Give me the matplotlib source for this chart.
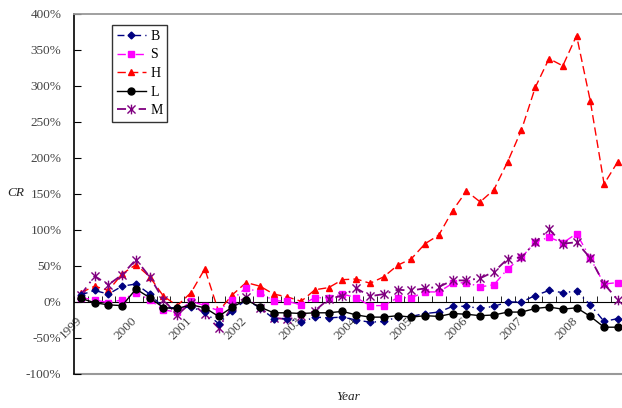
import numpy as np
import matplotlib
matplotlib.use('Agg')
import matplotlib.pyplot as plt
import matplotlib.transforms as mtransforms
from matplotlib.path import Path
from matplotlib.ticker import FixedLocator, FuncFormatter

years = ['1999', '2000', '2001', '2002', '2003', '2004', '2005', '2006', '2007', '2008']

# quarterly CR values (%), 1999Q1 .. 2008Q4
B = [10, 16, 11, 22, 25, 11, -8, -8, -7, -14, -30, -12, 3, -8, -23, -23, -28, -21, -22, -21,
     -25, -28, -27, -21, -20, -16, -14, -6, -6, -9, -6, 0, 0, 9, 16, 13, 15, -4, -27, -23]
S = [6, 3, -1, 3, 13, 3, -11, -14, 1, -5, -12, 3, 20, 13, 2, 1, -4, 6, 6, 11,
     6, -5, -5, 6, 6, 14, 14, 26, 27, 21, 24, 46, 62, 83, 90, 82, 95, 61, 25, 27]
H = [13, 22, 16, 39, 52, 35, 8, -5, 13, 46, -13, 10, 27, 22, 11, 7, 1, 17, 20, 31,
     32, 26, 35, 51, 60, 81, 93, 127, 154, 139, 156, 195, 239, 298, 338, 328, 370, 279, 164, 195]
L = [5, -1, -4, -5, 18, 6, -8, -9, -4, -8, -20, -7, 3, -7, -15, -15, -16, -15, -15, -13,
     -18, -21, -21, -19, -21, -19, -20, -16, -17, -19, -18, -14, -14, -9, -7, -10, -8, -20, -35, -35]
M = [10, 36, 24, 38, 59, 35, 3, -18, -1, -17, -36, -6, 7, -8, -22, -24, -20, -12, 4, 9,
     19, 8, 11, 17, 16, 19, 21, 30, 30, 33, 42, 60, 62, 83, 101, 81, 83, 61, 25, 3]

SERIF = ['Liberation Serif', 'DejaVu Serif']
GRAY = '#444444'

# Excel-style star: an X with a vertical stroke
STAR = Path([(-1, -1), (1, 1), (-1, 1), (1, -1), (0, -1.2), (0, 1.2)],
            [Path.MOVETO, Path.LINETO, Path.MOVETO, Path.LINETO, Path.MOVETO, Path.LINETO])

x = np.arange(len(B))

fig = plt.figure(figsize=(6.22, 4.08), dpi=100)
ax = fig.add_axes([74 / 622, 34 / 408, 548 / 622, 360 / 408])

ax.plot(x, H, color='red', ls=(0, (6, 3)), lw=1.0, marker='^', ms=5, label='H', zorder=3)
ax.plot(x, S, color='#ff00ff', ls=(0, (6, 3, 1, 3)), lw=1.0, marker='s', ms=5, label='S', zorder=3)
ax.plot(x, M, color='#800080', ls=(0, (5, 3, 1, 3)), lw=1.3, marker=STAR, ms=7,
        mew=1.0, label='M', zorder=3)
ax.plot(x, B, color='#000080', ls=(0, (5, 3, 1, 3)), lw=1.0, marker='D', ms=3.5, label='B', zorder=4)
ax.plot(x, L, color='black', ls='-', lw=1.0, marker='o', ms=5, label='L', zorder=5)

ax.set_xlim(-0.5, 39.3)
ax.set_ylim(-100, 400)

# category axis crosses at 0
ax.spines['right'].set_visible(False)
ax.spines['top'].set_color('#999999')
ax.spines['top'].set_linewidth(1.3)
ax.spines['left'].set_color('black')
ax.spines['left'].set_linewidth(1.2)
ax.spines['bottom'].set_position(('data', 0))
ax.spines['bottom'].set_color('black')
ax.axhline(-100, color='#999999', lw=1.5, clip_on=False, zorder=1)

ax.xaxis.set_major_locator(FixedLocator(np.arange(0, len(B), 4)))
ax.set_xticklabels(years, rotation=45, ha='right', va='top', rotation_mode='anchor',
                   family=SERIF, fontsize=9.5, color=GRAY)
ax.xaxis.set_minor_locator(FixedLocator(np.arange(-0.5, len(B), 1)))
ax.tick_params(axis='x', which='major', length=0, pad=9)
ax.tick_params(axis='x', which='minor', direction='in', length=4, color='black')
shift = mtransforms.ScaledTranslation(-5 / 100, 0, fig.dpi_scale_trans)
for lab in ax.get_xticklabels():
    lab.set_transform(lab.get_transform() + shift)

ax.yaxis.set_major_locator(FixedLocator(np.arange(-100, 401, 50)))
ax.yaxis.set_major_formatter(FuncFormatter(lambda v, p: f'{int(v)}%'))
ax.tick_params(axis='y', direction='in', length=5, pad=9)
for lab in ax.get_yticklabels():
    lab.set_family(SERIF)
    lab.set_fontsize(9.5)
    lab.set_color(GRAY)

fig.text(16 / 622, 1 - 193 / 408, 'CR', family=SERIF, style='italic', fontsize=9.5,
         ha='center', va='center', color='#222222')
fig.text(348 / 622, 1 - 397 / 408, 'Year', family=SERIF, style='italic', fontsize=9.5,
         ha='center', va='center', color='#222222')

handles, labels = ax.get_legend_handles_labels()
order = [labels.index(k) for k in ['B', 'S', 'H', 'L', 'M']]
leg = ax.legend([handles[i] for i in order], [labels[i] for i in order],
                loc='upper left', bbox_to_anchor=(38 / 548, 1 - 11 / 360),
                prop={'family': SERIF, 'size': 10}, frameon=True, fancybox=False,
                handlelength=2.1, handletextpad=0.3, borderpad=0.35, labelspacing=0.4,
                borderaxespad=0)
leg.get_frame().set_edgecolor('black')
leg.get_frame().set_linewidth(1.0)

fig.savefig('out.png', dpi=100)
